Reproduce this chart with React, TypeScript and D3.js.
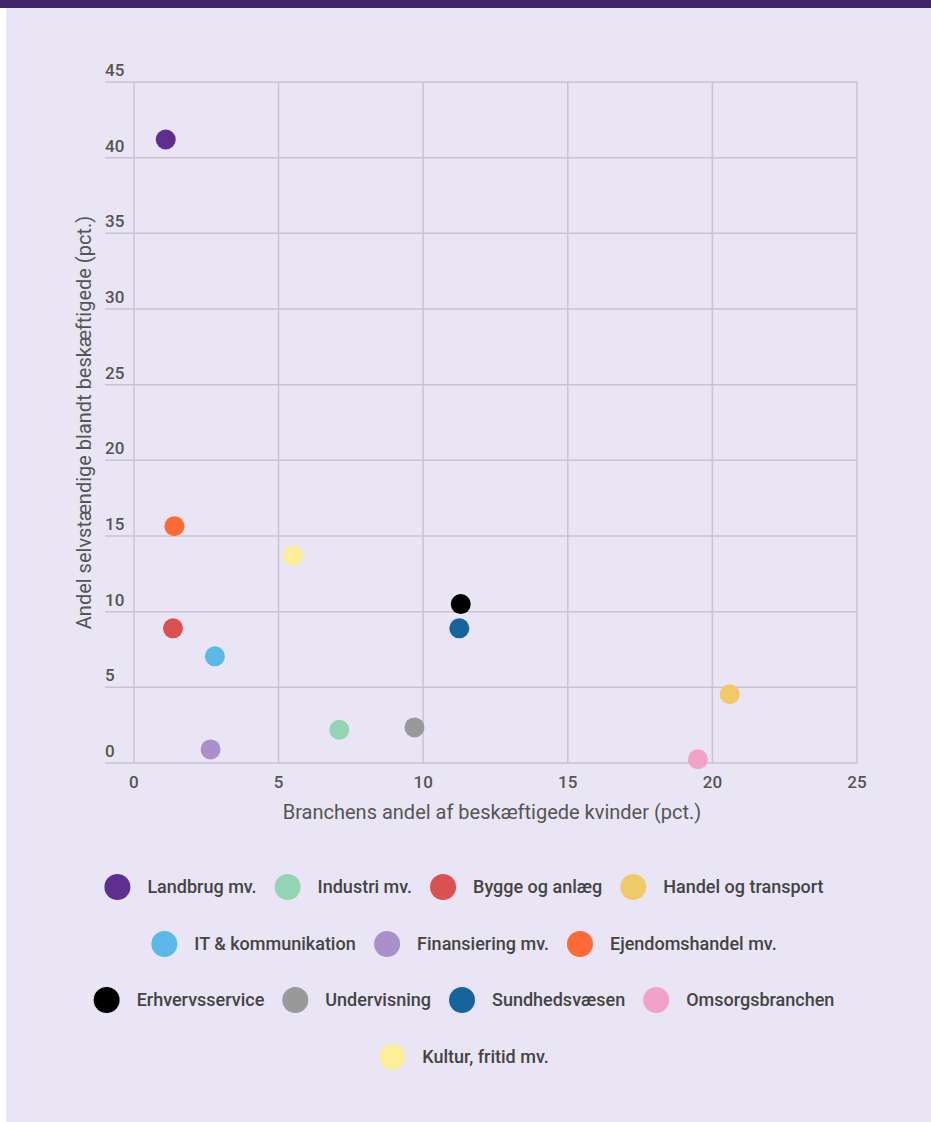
import React from "react";
import { scaleLinear } from "d3";

const categories = [
  "Landbrug mv.",
  "Industri mv.",
  "Bygge og anlæg",
  "Handel og transport",
  "IT & kommunikation",
  "Finansiering mv.",
  "Ejendomshandel mv.",
  "Erhvervsservice",
  "Undervisning",
  "Sundhedsvæsen",
  "Omsorgsbranchen",
  "Kultur, fritid mv.",
];
// branchens andel af beskæftigede kvinder (pct.)
const womenShare = [1.1, 7.1, 1.35, 20.6, 2.8, 2.65, 1.4, 11.3, 9.7, 11.25, 19.5, 5.5];
// andel selvstændige (pct.)
const selfEmployed = [41.2, 2.2, 8.9, 4.55, 7.05, 0.9, 15.65, 10.5, 2.35, 8.9, 0.25, 13.7];
const colors = [
  "#5e2e91",
  "#93d4b5",
  "#db5152",
  "#f0ca69",
  "#5cb8e6",
  "#aa8fc8",
  "#fe6a35",
  "#000000",
  "#999999",
  "#17649c",
  "#f1a2c9",
  "#fbef99",
];
const legendRows = [
  [0, 1, 2, 3],
  [4, 5, 6],
  [7, 8, 9, 10],
  [11],
];
const xTicks = [0, 5, 10, 15, 20, 25];
const yTicks = [0, 5, 10, 15, 20, 25, 30, 35, 40, 45];

const W = 931;
const H = 1122;
const left = 105;
const right = 857;
const top = 82;
const bottom = 763;
const FONT = "Roboto, 'Noto Sans', sans-serif";

let ctx: CanvasRenderingContext2D | null = null;
function measure(text: string, font: string) {
  if (!ctx) ctx = document.createElement("canvas").getContext("2d");
  if (!ctx) return text.length * 8;
  ctx.font = font;
  return ctx.measureText(text).width;
}

export default function App() {
  const x = scaleLinear().domain([-1, 25]).range([left, right]);
  const y = scaleLinear().domain([0, 45]).range([bottom, top]);

  const legendFont = `500 18px Roboto`;
  const r = 13;
  const rowY = [887, 944, 1000, 1057];
  const legendCenter = 464;

  return (
    <div style={{ position: "fixed", left: 0, top: 0, width: W, height: H, background: "#fff" }}>
      <svg width={W} height={H} style={{ display: "block", fontFamily: FONT }}>
        <rect x={6} y={0} width={W - 6} height={H} fill="#e9e5f4" />
        <rect x={0} y={0} width={W} height={8} fill="#40266f" />

        {/* grid */}
        {yTicks.map((t) => (
          <line key={"gy" + t} x1={left} x2={right} y1={y(t)} y2={y(t)} stroke="#c9c3d4" strokeWidth={1.5} />
        ))}
        {xTicks.map((t) => (
          <line key={"gx" + t} x1={x(t)} x2={x(t)} y1={top} y2={bottom} stroke="#c9c3d4" strokeWidth={1.5} />
        ))}

        {/* y tick labels */}
        {yTicks.map((t) => (
          <text key={"ty" + t} x={left} y={y(t) - 6} fontSize={17} fill="#555" fontWeight={500}>
            {t}
          </text>
        ))}
        {/* x tick labels */}
        {xTicks.map((t) => (
          <text key={"tx" + t} x={x(t)} y={788} fontSize={17} fill="#555" textAnchor="middle" fontWeight={500}>
            {t}
          </text>
        ))}

        <text x={492} y={819} fontSize={20} fill="#555" textAnchor="middle">
          Branchens andel af beskæftigede kvinder (pct.)
        </text>
        <text
          transform={`translate(91, ${(top + bottom) / 2}) rotate(-90)`}
          fontSize={20}
          fill="#555"
          textAnchor="middle"
        >
          Andel selvstændige blandt beskæftigede (pct.)
        </text>

        {/* points */}
        {categories.map((c, i) => (
          <circle key={c} cx={x(womenShare[i])} cy={y(selfEmployed[i])} r={10} fill={colors[i]} />
        ))}

        {/* legend */}
        {legendRows.map((row, ri) => {
          const widths = row.map((i) => 30 + measure(categories[i], legendFont) + r);
          const gap = 18;
          const total = widths.reduce((a, b) => a + b, 0) + gap * (row.length - 1);
          let cursor = legendCenter - total / 2;
          return row.map((i, k) => {
            const cx = cursor + r;
            cursor += widths[k] + gap;
            return (
              <g key={categories[i]}>
                <circle cx={cx} cy={rowY[ri]} r={r} fill={colors[i]} />
                <text x={cx + 30} y={rowY[ri] + 6} fill="#444" style={{ font: legendFont }}>
                  {categories[i]}
                </text>
              </g>
            );
          });
        })}
      </svg>
    </div>
  );
}
